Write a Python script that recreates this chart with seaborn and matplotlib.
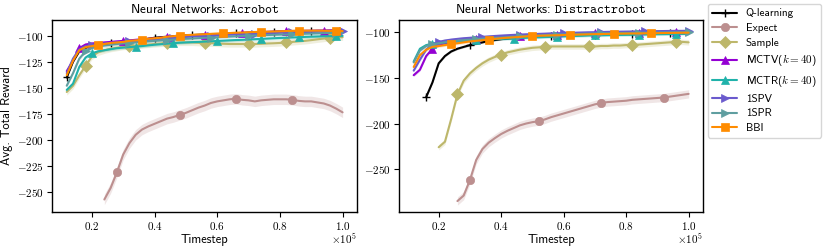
import numpy as np
import matplotlib
matplotlib.use("Agg")
import matplotlib.pyplot as plt
from matplotlib.lines import Line2D
from matplotlib.ticker import FuncFormatter, MultipleLocator
import seaborn as sns

# ---------------- data ----------------
timesteps = np.arange(12000, 100001, 2000)  # 0.12e5 ... 1.0e5

labels = ["Q-learning", "Expect", "Sample", r"MCTV($k=40$)", r"MCTR($k=40$)",
          "1SPV", "1SPR", "BBI"]

# Acrobot
acro_q = [-140, -125, -115, -111.5, -110, -109, -108, -107.5, -107, -106,
          -105.5, -104.5, -104, -103, -102, -101.5, -101, -100.5, -100, -99.8,
          -99.5, -99.2, -99, -98.8, -98.5, -98.3, -98, -97.8, -97.5, -97.3,
          -97, -96.8, -96.6, -96.4, -96.2, -96, -95.9, -95.8, -95.7, -95.6,
          -95.5, -95.5, -95.4, -95.4, -95.3]
acro_expect = [-257, -246, -231, -214, -203, -195, -190, -187, -184.5, -182,
               -179.5, -178, -176, -174, -171.5, -169, -167, -164.5, -163, -162,
               -161, -160.5, -161.5, -162, -163, -162, -161.5, -161, -161, -161,
               -161.5, -162.5, -163, -163, -164, -165, -167, -170, -173.5]
acro_sample = [-154, -148, -138, -129, -120, -116, -114, -112.5, -111.5, -110.5,
               -110, -109.5, -109, -108.5, -108, -107.5, -107, -106.8, -106.5, -106.5,
               -106.5, -106.8, -107, -107.2, -107.5, -107.8, -108, -108, -108, -108,
               -108, -107.8, -107.5, -107.3, -107, -106.5, -106, -105.5, -105, -104.3,
               -103.5, -102.8, -102, -101.7, -101.5]
acro_mctv = [-134, -124, -112, -108.5, -107.5, -107, -106.5, -106, -105.5, -105,
             -104.5, -104, -103.5, -103, -102.5, -102, -101.5, -101, -100.6, -100.2,
             -99.8, -99.5, -99.2, -98.9, -98.6, -98.3, -98, -97.7, -97.4, -97.1,
             -96.8, -96.6, -96.4, -96.2, -96, -95.8, -95.6, -95.5, -95.4, -95.3,
             -95.2, -95.1, -95, -95, -95]
acro_mctr = [-152, -146, -130, -121, -117, -115, -114, -113, -112, -111.5,
             -111, -110.5, -110, -109.3, -108.7, -108.2, -107.7, -107.2, -106.8, -106.5,
             -106.2, -106, -105.7, -105.4, -105.1, -104.8, -104.5, -104.2, -104, -103.7,
             -103.4, -103.1, -102.8, -102.5, -102.2, -102, -101.7, -101.5, -101.2, -101,
             -100.8, -100.6, -100.5, -100.3, -100.2]
acro_1spv = [-136, -122, -113, -110, -109, -108.2, -107.5, -107, -106.5, -106,
             -105.5, -105, -104.5, -104, -103.5, -103, -102.5, -102, -101.6, -101.2,
             -100.8, -100.5, -100.2, -99.9, -99.6, -99.3, -99, -98.8, -98.5, -98.3,
             -98, -97.8, -97.6, -97.4, -97.2, -97, -96.8, -96.6, -96.5, -96.3,
             -96.2, -96, -96, -95.9, -95.8]
acro_1spr = [-148, -136, -122, -115, -112, -110.5, -109.5, -108.8, -108, -107.5,
             -107, -106.5, -106, -105.5, -105, -104.6, -104.2, -103.8, -103.4, -103,
             -102.7, -102.4, -102.1, -101.8, -101.5, -101.2, -100.9, -100.6, -100.3, -100,
             -99.8, -99.6, -99.4, -99.2, -99, -98.8, -98.6, -98.4, -98.2, -98,
             -97.8, -97.6, -97.4, -97.3, -97.2]
acro_bbi = [-138, -124, -114, -111, -110, -109, -108, -107, -106.5, -106,
            -105, -104.5, -104, -103, -102.5, -102, -101, -100.5, -100, -99.5,
            -99.2, -98.9, -98.6, -98.3, -98, -97.8, -97.5, -97.2, -97, -96.7,
            -96.5, -96.3, -96.2, -96, -95.8, -95.6, -95.4, -95.3, -95.2, -95.2,
            -95.2, -95.3, -95.4, -95.5, -95.6]

# Distractrobot
dist_q = [-171, -155, -134, -126, -121, -118, -116, -114, -112.5, -111,
          -109.5, -108.5, -107.5, -106.8, -106, -105.5, -105, -104.7, -104.5, -104.2,
          -104, -103.8, -103.5, -103.3, -103, -102.8, -102.5, -102.4, -102.3, -102.1,
          -102, -101.9, -101.8, -101.7, -101.6, -101.5, -101.4, -101.3, -101.2, -101.1,
          -101, -101, -101]
dist_expect = [-285, -279, -262, -240, -228, -221, -216, -211.5, -208, -205,
               -202, -200, -198.5, -197.5, -195.5, -193, -191, -189, -187, -185,
               -183, -181, -179, -177.5, -176.5, -176, -175.5, -175, -174, -173.5,
               -173, -172.5, -172, -171.5, -170.5, -169.5, -168.5, -167.5]
dist_sample = [-226, -220, -195, -168, -153, -145, -139, -134, -130, -127,
               -124.5, -122, -120.5, -119, -118, -117, -116.5, -116, -115.5, -115.5,
               -115.5, -115.5, -115.5, -115.5, -115.5, -115.5, -115, -115, -114.5, -114.5,
               -114, -114, -113.5, -113, -112.5, -112, -111.5, -111, -110.5, -110.5,
               -111]
dist_mctv = [-147, -141, -126, -118, -114, -112, -110.5, -109.5, -108.5, -107.5,
             -107, -106.5, -106, -105.5, -105, -104.8, -104.5, -104.2, -104, -103.7,
             -103.5, -103.2, -103, -102.7, -102.5, -102.2, -102, -101.7, -101.5, -101.2,
             -101, -100.9, -100.8, -100.6, -100.5, -100.4, -100.3, -100.1, -100, -99.9,
             -99.8, -99.6, -99.5, -99.4, -99.3]
dist_mctr = [-132, -118, -114, -112.5, -111.5, -111, -110.5, -110, -109.5, -109,
             -108.5, -108.2, -107.8, -107.5, -107.3, -107, -106.8, -106.4, -106, -105.7,
             -105.5, -105.2, -105, -104.7, -104.5, -104.2, -104, -103.8, -103.5, -103.4,
             -103.3, -103.1, -103, -102.9, -102.8, -102.6, -102.5, -102.4, -102.3, -102.1,
             -102, -101.9, -101.8, -101.6, -101.5]
dist_1spv = [-142, -130, -119, -113, -110.5, -109, -108, -107.2, -106.5, -106,
             -105.5, -105, -104.5, -104, -103.6, -103.2, -102.8, -102.5, -102.2, -102,
             -101.7, -101.5, -101.2, -101, -100.8, -100.6, -100.4, -100.2, -100, -99.9,
             -99.7, -99.5, -99.4, -99.3, -99.2, -99.1, -99, -98.9, -98.8, -98.7,
             -98.6, -98.5, -98.4, -98.4, -98.3]
dist_1spr = [-133, -120, -115, -113, -112, -111, -110, -109.2, -108.5, -108,
             -107.5, -107, -106.5, -106, -105.6, -105.2, -104.8, -104.4, -104, -103.7,
             -103.4, -103.1, -102.8, -102.5, -102.3, -102.1, -101.9, -101.7, -101.5, -101.3,
             -101.1, -101, -100.9, -100.8, -100.7, -100.6, -100.5, -100.4, -100.3, -100.2,
             -100.1, -100, -100, -99.9, -99.9]
dist_bbi = [-138, -125, -119, -116, -115, -114, -113, -112, -111, -110,
            -109.3, -108.6, -108, -107.2, -106.5, -106, -105.5, -105, -104.5, -104,
            -103.8, -103.6, -103.4, -103.2, -103, -102.8, -102.6, -102.4, -102.2, -102,
            -101.9, -101.8, -101.7, -101.5, -101.4, -101.3, -101.2, -101.1, -101, -100.9,
            -100.8, -100.7, -100.6, -100.5, -100.4]

acro_series = [acro_q, acro_expect, acro_sample, acro_mctv, acro_mctr,
               acro_1spv, acro_1spr, acro_bbi]
dist_series = [dist_q, dist_expect, dist_sample, dist_mctv, dist_mctr,
               dist_1spv, dist_1spr, dist_bbi]
# half-width of shaded confidence band
acro_band = [1.0, 5.0, 3.0, 1.5, 1.5, 1.5, 1.5, 1.5]
dist_band = [1.0, 4.5, 3.0, 1.5, 1.5, 1.5, 1.5, 1.5]

# ---------------- style ----------------
colors = ["black", "#bc8f8f", "#bdb76b", "#9400d3", "#20b2aa", "#6a5acd",
          "#5f9ea0", "#ff8c00"]
markers = ["+", "o", "D", "^", "^", ">", ">", "s"]
acro_marks = [[0, 7, 14, 20, 27, 33, 39], [2, 12, 21, 30], [3, 10, 16, 22, 29, 35, 42],
              [2, 9, 16, 22, 28, 35, 41], [4, 11, 17, 24, 31, 37, 43],
              [4, 10, 17, 23, 30, 36, 44], [3, 10, 16, 23, 29, 36, 43],
              [5, 12, 18, 25, 31, 37, 43]]
dist_marks = [[0, 7, 14, 20, 27, 33, 39], [2, 13, 23, 33], [3, 10, 17, 24, 31, 38],
              [3, 10, 17, 23, 29, 36, 42], [3, 10, 16, 23, 29, 36, 42],
              [4, 11, 17, 24, 30, 37, 44], [3, 10, 17, 23, 30, 36, 44],
              [6, 12, 19, 25, 32, 38]]

sns.set_style("ticks")
plt.rcParams.update({
    "font.family": ["cmss10", "DejaVu Sans"],
    "mathtext.fontset": "cm",
    "axes.formatter.use_mathtext": True,
    "axes.edgecolor": "black",
    "axes.linewidth": 1.0,
    "xtick.color": "black",
    "ytick.color": "black",
    "xtick.major.size": 3.5,
    "ytick.major.size": 3.5,
    "xtick.major.width": 0.8,
    "ytick.major.width": 0.8,
    "xtick.direction": "out",
    "ytick.direction": "out",
    "axes.labelcolor": "black",
    "text.color": "black",
})

fig = plt.figure(figsize=(8.3, 2.49), dpi=100)
ax1 = fig.add_axes([52 / 830, 1 - 212 / 249, 305 / 830, 192 / 249])
ax2 = fig.add_axes([399 / 830, 1 - 212 / 249, 304 / 830, 192 / 249])


def mstyle(m):
    if m == "+":
        return dict(markersize=5.5, markeredgewidth=1.0)
    return dict(markersize=6, markeredgewidth=0.5)


def draw(ax, series, bands, marks, title, ylim):
    for vals, b, c, m, me, lab in zip(series, bands, colors, markers, marks, labels):
        y = np.asarray(vals, dtype=float)
        x = timesteps[-len(y):]
        ax.fill_between(x, y - b, y + b, color=c, alpha=0.22, linewidth=0)
        sns.lineplot(x=x, y=y, ax=ax, color=c, linewidth=1.5, marker=m,
                     markevery=me, markeredgecolor=c, markerfacecolor=c,
                     label=lab, legend=False, sort=False, estimator=None,
                     **mstyle(m))
    ax.set_title(title, fontsize=9.5, pad=5)
    ax.set_xlim(7300, 104600)
    ax.set_ylim(*ylim)
    ax.xaxis.set_major_locator(MultipleLocator(20000))
    ax.xaxis.set_major_formatter(FuncFormatter(lambda v, p: r"$\mathrm{%.1f}$" % (v / 1e5)))
    ax.yaxis.set_major_formatter(FuncFormatter(lambda v, p: r"$\mathrm{%d}$" % round(v)))
    ax.tick_params(labelsize=8, pad=2.5)
    ax.set_xlabel("Timestep", fontsize=9, labelpad=1.5)
    ax.set_ylabel("")
    ax.text(1.0, -0.1, r"$\times\mathrm{10}^{5}$", transform=ax.transAxes,
            ha="right", va="top", fontsize=8)
    for s in ax.spines.values():
        s.set_visible(True)
        s.set_color("black")


draw(ax1, acro_series, acro_band, acro_marks,
     r"Neural Networks: $\mathtt{Acrobot}$", (-269, -85))
draw(ax2, dist_series, dist_band, dist_marks,
     r"Neural Networks: $\mathtt{Distractrobot}$", (-297, -86.5))
ax1.yaxis.set_major_locator(MultipleLocator(25))
ax2.yaxis.set_major_locator(MultipleLocator(50))
ax1.set_ylabel("Avg. Total Reward", fontsize=9, labelpad=3)

handles = [Line2D([], [], color=c, marker=m, markeredgecolor=c, markerfacecolor=c,
                  linewidth=1.5, **mstyle(m))
           for c, m in zip(colors, markers)]
fig.legend(handles, labels, loc="upper left", bbox_to_anchor=(708 / 830, 1 - 4 / 249),
           fontsize=8, frameon=True, fancybox=True, edgecolor="#cccccc",
           borderaxespad=0, labelspacing=0.42, handlelength=2.2, borderpad=0.4,
           handletextpad=0.8)

fig.savefig("out.png", dpi=100)
